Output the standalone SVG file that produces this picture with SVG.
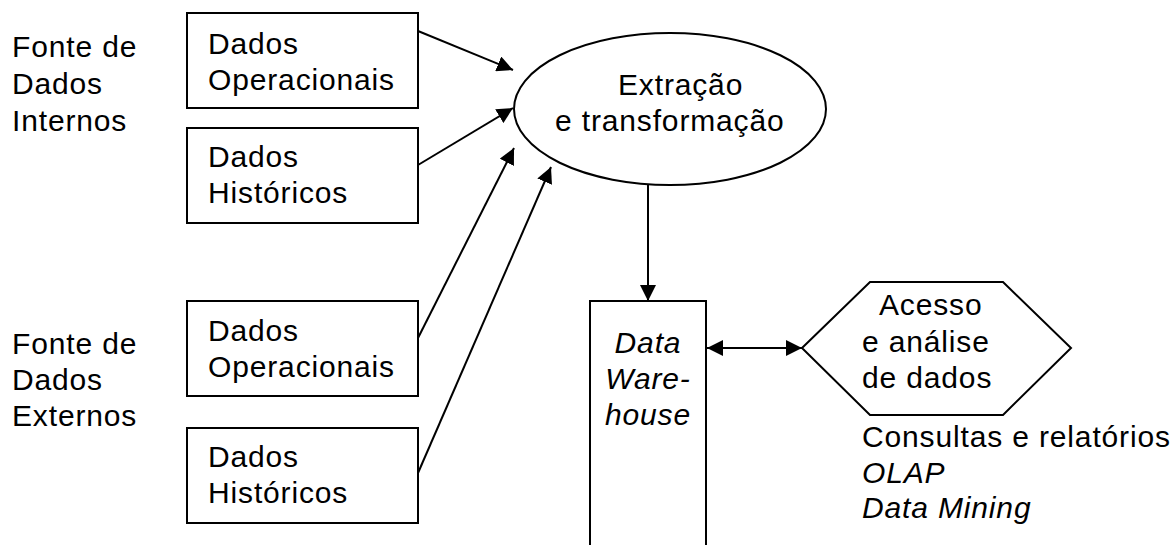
<svg xmlns="http://www.w3.org/2000/svg" width="1171" height="545" viewBox="0 0 1171 545">
<style>
text{font-family:"Liberation Sans",Arial,sans-serif;font-size:30px;letter-spacing:0.85px;fill:#000}
.it{font-style:italic}
.shape{fill:#fff;stroke:#000;stroke-width:2}
.conn{stroke:#000;stroke-width:2;fill:none}
</style>
<defs>
<marker id="ah" markerUnits="userSpaceOnUse" markerWidth="17" markerHeight="16" refX="16" refY="8" orient="auto-start-reverse" viewBox="0 0 17 16">
<path d="M0,0 L16,8 L0,16 z" fill="#000"/>
</marker>
</defs>
<rect width="1171" height="545" fill="#fff"/>
<g id="label-internos">
<text x="12" y="57">Fonte de</text>
<text x="12" y="94">Dados</text>
<text x="12" y="131">Internos</text>
</g>
<g id="label-externos">
<text x="12" y="354">Fonte de</text>
<text x="12" y="390">Dados</text>
<text x="12" y="426">Externos</text>
</g>
<g id="int-operacionais">
<rect class="shape" x="187" y="13" width="231" height="95"/>
<text x="208" y="54">Dados</text>
<text x="208" y="90">Operacionais</text>
</g>
<g id="int-historicos">
<rect class="shape" x="187" y="128" width="231" height="95"/>
<text x="208" y="167">Dados</text>
<text x="208" y="203">Históricos</text>
</g>
<g id="ext-operacionais">
<rect class="shape" x="187" y="301" width="231" height="95"/>
<text x="208" y="341">Dados</text>
<text x="208" y="377">Operacionais</text>
</g>
<g id="ext-historicos">
<rect class="shape" x="187" y="428" width="231" height="95"/>
<text x="208" y="467">Dados</text>
<text x="208" y="503">Históricos</text>
</g>
<g id="extracao">
<ellipse class="shape" cx="670" cy="109" rx="156" ry="76"/>
<text x="618" y="95">Extração</text>
<text x="555" y="131">e transformação</text>
</g>
<g id="datawarehouse">
<path class="shape" d="M590,550 L590,301 L706,301 L706,550"/>
<text class="it" x="648" y="353" text-anchor="middle">Data</text>
<text class="it" x="648" y="389" text-anchor="middle">Ware-</text>
<text class="it" x="648" y="425" text-anchor="middle">house</text>
</g>
<g id="acesso">
<polygon class="shape" points="802,348 870,282 1003,282 1071,348 1003,415 870,415"/>
<text x="879" y="315">Acesso</text>
<text x="862" y="352">e análise</text>
<text x="862" y="388">de dados</text>
</g>
<g id="ferramentas">
<text x="862" y="447">Consultas e relatórios</text>
<text class="it" x="862" y="483">OLAP</text>
<text class="it" x="862" y="518">Data Mining</text>
</g>
<g id="connectors">
<line class="conn" x1="418" y1="31" x2="513" y2="70" marker-end="url(#ah)"/>
<line class="conn" x1="418" y1="165" x2="513" y2="108" marker-end="url(#ah)"/>
<line class="conn" x1="418" y1="338" x2="514" y2="148" marker-end="url(#ah)"/>
<line class="conn" x1="418" y1="473" x2="551" y2="167" marker-end="url(#ah)"/>
<line class="conn" x1="648" y1="185" x2="648" y2="301" marker-end="url(#ah)"/>
<line class="conn" x1="707" y1="348" x2="802" y2="348" marker-start="url(#ah)" marker-end="url(#ah)"/>
</g>
</svg>
